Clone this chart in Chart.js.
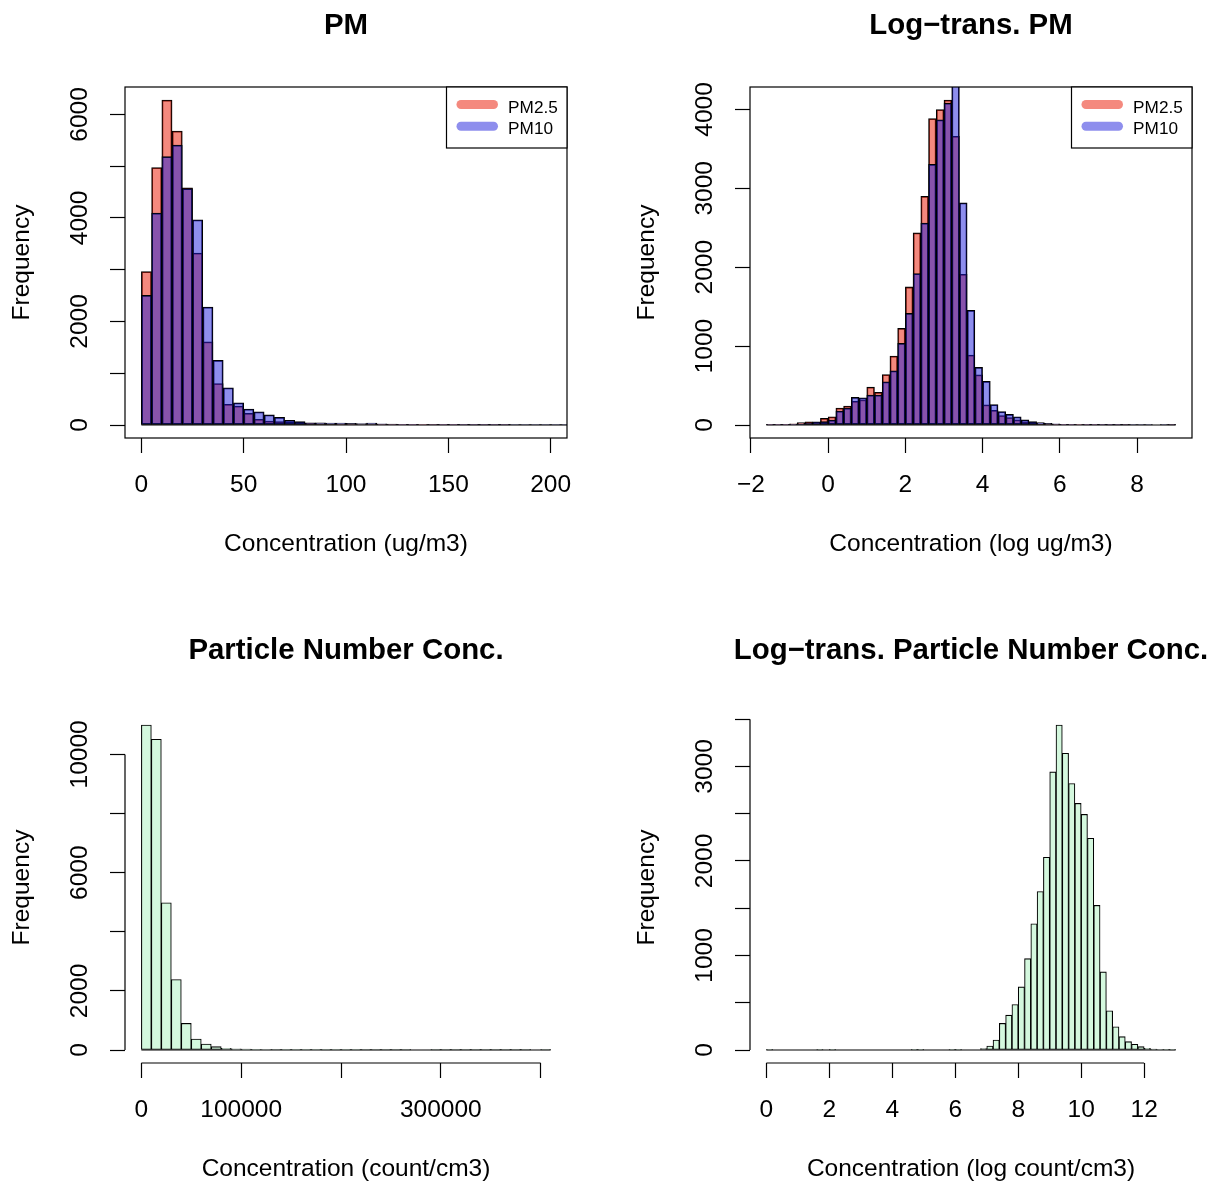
<html>
  <head>
    <meta charset="utf-8">
    <script type="text/javascript" src="https://cdn.jsdelivr.net/npm/chart.js@4.4.1/dist/chart.umd.min.js"></script>
    <style>
      body { margin: 0; width: 1212px; height: 1181px; overflow: hidden; background: #fff; position: relative; }
      canvas { position: absolute; }
    </style>
  </head>
  <body>

    <canvas id="pm" style="left:0px;top:0px" width="625" height="625"></canvas>
    <canvas id="logpm" style="left:625px;top:0px" width="625" height="625"></canvas>
    <canvas id="pnc" style="left:0px;top:625px" width="625" height="625"></canvas>
    <canvas id="logpnc" style="left:625px;top:625px" width="625" height="625"></canvas>

    <script type="text/javascript">

var FAMILY = '"Liberation Sans", Arial, Helvetica, sans-serif'
var AXIS_SIZE = 24.5
var TITLE_SIZE = 29.4

// PM, 5 ug/m3 bins from 0
var pmBinStart = 0
var pmBinWidth = 5
var pmXLim = [0, 200]
var pm25Counts = [2965, 4975, 6280, 5680, 4585, 3320, 1605, 800, 400, 365, 225, 110, 77, 64, 50, 40, 32, 25, 20, 15,
  12, 10, 8, 6, 5, 4, 3, 3, 2, 2, 2, 1, 1, 1, 1, 1, 0, 0, 0, 0, 0, 0]
var pm10Counts = [2505, 4095, 5185, 5410, 4570, 3965, 2280, 1250, 720, 430, 310, 255, 195, 150, 90, 65, 40, 40, 38, 35,
  30, 28, 35, 22, 18, 15, 12, 10, 8, 6, 5, 4, 3, 3, 2, 2, 1, 1, 1, 1, 1, 1]
var pmXTicks = [0, 50, 100, 150, 200]
var pmXLabels = ['0', '50', '100', '150', '200']
var pmYTicks = [0, 1000, 2000, 3000, 4000, 5000, 6000]
var pmYLabels = ['0', '', '2000', '', '4000', '', '6000']

// log PM, 0.2 bins from -1.6
var logPmBinStart = -1.6
var logPmBinWidth = 0.2
var logPmXLim = [-1.6, 9.0]
var logPm25Counts = [5, 5, 8, 15, 30, 40, 25, 85, 105, 215, 240, 300, 320, 480, 415, 640, 875, 1225, 1750, 2435,
  2900, 3885, 4000, 4120, 3660, 1910, 885, 635, 255, 185, 120, 95, 65, 40, 25, 15, 10, 8, 5, 4,
  3, 2, 2, 1, 1, 1, 1, 0, 0, 0, 0, 0, 1]
var logPm10Counts = [2, 3, 5, 8, 15, 25, 40, 42, 63, 177, 215, 350, 345, 380, 380, 548, 688, 1035, 1415, 1920,
  2560, 3305, 3870, 4080, 4450, 2815, 1455, 730, 555, 260, 170, 135, 105, 65, 42, 30, 20, 14, 10, 8,
  6, 5, 4, 3, 2, 2, 1, 1, 1, 1, 0, 1, 1]
var logPmXTicks = [-2, 0, 2, 4, 6, 8]
var logPmXLabels = ['\u22122', '0', '2', '4', '6', '8']
var logPmYTicks = [0, 1000, 2000, 3000, 4000]
var logPmYLabels = ['0', '1000', '2000', '3000', '4000']

// particle number, 10000 count/cm3 bins from 0
var pncBinStart = 0
var pncBinWidth = 10000
var pncXLim = [0, 410000]
var pncCounts = [10995, 10510, 4980, 2385, 900, 370, 200, 112, 56, 40, 30, 22, 18, 15, 12, 10, 8, 7, 6, 5,
  4, 4, 3, 3, 2, 2, 2, 0, 0, 1, 2, 1, 1, 1, 1, 1, 1, 1, 1, 0, 1]
var pncXTicks = [0, 100000, 200000, 300000, 400000]
var pncXLabels = ['0', '100000', '', '300000', '']
var pncYTicks = [0, 2000, 4000, 6000, 8000, 10000]
var pncYLabels = ['0', '2000', '', '6000', '', '10000']

// log particle number, 0.2 bins from 0
var logPncBinStart = 0
var logPncBinWidth = 0.2
var logPncXLim = [0, 13]
var logPncCounts = [1, 0, 0, 0, 0, 0, 0, 0, 1, 0, 1, 0, 0, 0, 0, 0, 0, 0, 0, 0,
  0, 0, 0, 1, 1, 0, 0, 0, 0, 1, 1, 0, 0, 0, 15, 42, 105, 281, 369, 481,
  668, 967, 1336, 1677, 2039, 2943, 3439, 3140, 2820, 2609, 2493, 2240, 1530, 826, 415, 246, 141, 88, 60, 35,
  18, 10, 5, 3, 2]
var logPncXTicks = [0, 2, 4, 6, 8, 10, 12]
var logPncXLabels = ['0', '2', '4', '6', '8', '10', '12']
var logPncYTicks = [0, 500, 1000, 1500, 2000, 2500, 3000, 3500]
var logPncYLabels = ['0', '', '1000', '', '2000', '', '3000', '']

var RED = 'rgba(235, 40, 20, 0.55)'
var BLUE = 'rgba(30, 30, 220, 0.5)'
var GREEN = 'rgb(212, 248, 222)'


function bins(counts, start, width) {
  return counts.map(function (c, i) {
    return {x: start + width * (i + 0.5), y: c}
  })
}

// R style 4% extension of the axis range
function extend(lim) {
  var d = (lim[1] - lim[0]) * 0.04
  return [lim[0] - d, lim[1] + d]
}

// rotated y labels are centred on a fixed line left of the axis
function yTickPad(labels) {
  var ctx = document.createElement('canvas').getContext('2d')
  ctx.font = AXIS_SIZE + 'px ' + FAMILY
  var widest = 0
  labels.forEach(function (l) { widest = Math.max(widest, ctx.measureText(l).width) })
  return 125 - 15 - 80 - widest / 2
}

var rFrame = {
  id: 'rFrame',
  afterDatasetsDraw: function (chart, args, opts) {
    var ctx = chart.ctx, a = chart.chartArea
    var xs = chart.scales.x, ys = chart.scales.y
    var y0 = ys.getPixelForValue(0)
    ctx.save()
    ctx.beginPath()
    ctx.rect(a.left, a.top, a.right - a.left, a.bottom - a.top)
    ctx.clip()
    ctx.strokeStyle = '#000'
    ctx.lineWidth = 1.2
    ctx.beginPath()
    ctx.moveTo(xs.getPixelForValue(opts.from), y0)
    ctx.lineTo(xs.getPixelForValue(opts.to), y0)
    ctx.stroke()
    ctx.restore()
  },
  afterDraw: function (chart, args, opts) {
    var ctx = chart.ctx, a = chart.chartArea
    var xs = chart.scales.x, ys = chart.scales.y
    ctx.save()

    // main title, centred over the plot region and never squeezed
    ctx.fillStyle = '#000'
    ctx.font = 'bold ' + TITLE_SIZE + 'px ' + FAMILY
    ctx.textAlign = 'center'
    ctx.textBaseline = 'middle'
    ctx.fillText(opts.title, (a.left + a.right) / 2, 26)

    ctx.strokeStyle = '#000'
    ctx.lineWidth = 1.2
    if (opts.box) {
      ctx.strokeRect(a.left, a.top, a.right - a.left, a.bottom - a.top)
    } else {
      var xt = xs.ticks, yt = ys.ticks
      ctx.beginPath()
      ctx.moveTo(xs.getPixelForValue(xt[0].value), a.bottom)
      ctx.lineTo(xs.getPixelForValue(xt[xt.length - 1].value), a.bottom)
      ctx.moveTo(a.left, ys.getPixelForValue(yt[0].value))
      ctx.lineTo(a.left, ys.getPixelForValue(yt[yt.length - 1].value))
      ctx.stroke()
    }
    if (opts.legend) {
      var w = 120.5, h = 61
      var lx = a.right - w, ly = a.top
      ctx.fillStyle = '#fff'
      ctx.fillRect(lx, ly, w, h)
      ctx.strokeRect(lx, ly, w, h)
      ctx.font = '17.2px ' + FAMILY
      ctx.textAlign = 'left'
      ctx.textBaseline = 'alphabetic'
      chart.data.datasets.forEach(function (d, i) {
        var cy = ly + 17.5 + i * 21.7
        ctx.strokeStyle = d.backgroundColor
        ctx.lineWidth = 9
        ctx.lineCap = 'round'
        ctx.beginPath()
        ctx.moveTo(lx + 14.5, cy)
        ctx.lineTo(lx + 47, cy)
        ctx.stroke()
        ctx.fillStyle = '#000'
        ctx.fillText(d.label, lx + 61.6, cy + 8)
      })
    }
    ctx.restore()
  }
}

function tickCfg(values) {
  return function (scale) {
    scale.ticks = values.map(function (v) { return {value: v} })
  }
}

function draw_hist(element_id, p) {
  var ctx = document.getElementById(element_id).getContext('2d')
  var xr = extend(p.xlim)
  var yr = extend([0, Math.max.apply(null, p.series[0].counts)])
  var n = p.series[0].counts.length

  var datasets = p.series.map(function (s, i) {
    return {
      label: s.label,
      data: bins(s.counts, p.binStart, p.binWidth),
      backgroundColor: s.color,
      borderColor: '#000',
      borderWidth: 1.1,
      borderSkipped: false,
      grouped: false,
      barPercentage: 1,
      categoryPercentage: 1,
      order: p.series.length - i,
      clip: 0
    }
  })

  var grid = {
    offset: false,
    drawOnChartArea: false,
    drawTicks: true,
    tickLength: 15,
    tickColor: '#000',
    tickWidth: 1.2,
    color: '#000'
  }
  var font = {family: FAMILY, size: AXIS_SIZE}

  var config = {
    type: 'bar',
    data: {datasets: datasets},
    options: {
      responsive: false,
      animation: false,
      events: [],
      layout: {padding: {left: 0, right: 58, top: 87, bottom: 0}},
      scales: {
        x: {
          type: 'linear',
          min: xr[0],
          max: xr[1],
          offset: false,
          afterBuildTicks: tickCfg(p.xTicks),
          afterFit: function (s) { s.height = 187 },
          grid: grid,
          border: {display: false},
          ticks: {
            font: font, color: '#000', padding: 18, autoSkip: false, maxRotation: 0,
            callback: function (v, i) { return p.xLabels[i] }
          },
          title: {display: true, text: p.xTitle, font: font, color: '#000', padding: {top: 0, bottom: 66.5}}
        },
        y: {
          type: 'linear',
          min: yr[0],
          max: yr[1],
          afterBuildTicks: tickCfg(p.yTicks),
          afterFit: function (s) { s.width = 125 },
          grid: grid,
          border: {display: false},
          ticks: {
            font: font, color: '#000', padding: yTickPad(p.yLabels), autoSkip: false,
            minRotation: 90, maxRotation: 90, crossAlign: 'center',
            callback: function (v, i) { return p.yLabels[i] }
          },
          title: {display: true, text: 'Frequency', font: font, color: '#000', padding: {top: 7.3, bottom: 0}}
        }
      },
      plugins: {
        legend: {display: false},
        tooltip: {enabled: false},
        rFrame: {
          title: p.title,
          box: p.box,
          legend: p.legend,
          from: p.binStart,
          to: p.binStart + p.binWidth * n
        }
      }
    },
    plugins: [rFrame]
  }

  return new Chart(ctx, config)
}

draw_hist('pm', {
  title: 'PM', xTitle: 'Concentration (ug/m3)',
  binStart: pmBinStart, binWidth: pmBinWidth, xlim: pmXLim,
  series: [{label: 'PM2.5', counts: pm25Counts, color: RED}, {label: 'PM10', counts: pm10Counts, color: BLUE}],
  xTicks: pmXTicks, xLabels: pmXLabels, yTicks: pmYTicks, yLabels: pmYLabels,
  box: true, legend: true
})

draw_hist('logpm', {
  title: 'Log\u2212trans. PM', xTitle: 'Concentration (log ug/m3)',
  binStart: logPmBinStart, binWidth: logPmBinWidth, xlim: logPmXLim,
  series: [{label: 'PM2.5', counts: logPm25Counts, color: RED}, {label: 'PM10', counts: logPm10Counts, color: BLUE}],
  xTicks: logPmXTicks, xLabels: logPmXLabels, yTicks: logPmYTicks, yLabels: logPmYLabels,
  box: true, legend: true
})

draw_hist('pnc', {
  title: 'Particle Number Conc.', xTitle: 'Concentration (count/cm3)',
  binStart: pncBinStart, binWidth: pncBinWidth, xlim: pncXLim,
  series: [{label: 'PNC', counts: pncCounts, color: GREEN}],
  xTicks: pncXTicks, xLabels: pncXLabels, yTicks: pncYTicks, yLabels: pncYLabels,
  box: false, legend: false
})

draw_hist('logpnc', {
  title: 'Log\u2212trans. Particle Number Conc.', xTitle: 'Concentration (log count/cm3)',
  binStart: logPncBinStart, binWidth: logPncBinWidth, xlim: logPncXLim,
  series: [{label: 'PNC', counts: logPncCounts, color: GREEN}],
  xTicks: logPncXTicks, xLabels: logPncXLabels, yTicks: logPncYTicks, yLabels: logPncYLabels,
  box: false, legend: false
})

    </script>
  </body>
</html>
